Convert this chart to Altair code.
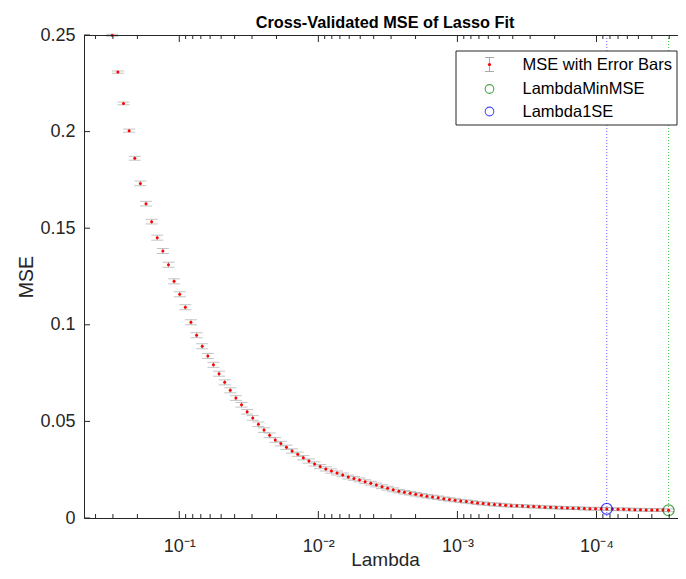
import altair as alt
import pandas as pd

# ---- data ----
log10_lambda = [
    -0.5183, -0.5587, -0.5991, -0.6395, -0.6799, -0.7203, -0.7607, -0.8011, -0.8415, -0.8819,
    -0.9223, -0.9627, -1.0031, -1.0435, -1.0840, -1.1244, -1.1648, -1.2052, -1.2456, -1.2860,
    -1.3264, -1.3668, -1.4072, -1.4476, -1.4880, -1.5284, -1.5688, -1.6092, -1.6496, -1.6900,
    -1.7304, -1.7708, -1.8112, -1.8516, -1.8920, -1.9324, -1.9728, -2.0132, -2.0536, -2.0941,
    -2.1345, -2.1749, -2.2153, -2.2557, -2.2961, -2.3365, -2.3769, -2.4173, -2.4577, -2.4981,
    -2.5385, -2.5789, -2.6193, -2.6597, -2.7001, -2.7405, -2.7809, -2.8213, -2.8617, -2.9021,
    -2.9425, -2.9830, -3.0234, -3.0638, -3.1042, -3.1446, -3.1850, -3.2254, -3.2658, -3.3062,
    -3.3466, -3.3870, -3.4274, -3.4678, -3.5082, -3.5486, -3.5890, -3.6294, -3.6698, -3.7102,
    -3.7506, -3.7910, -3.8314, -3.8718, -3.9122, -3.9526, -3.9931, -4.0335, -4.0739, -4.1143,
    -4.1547, -4.1951, -4.2355, -4.2759, -4.3163, -4.3567, -4.3971, -4.4375, -4.4779, -4.5183,
]
mse = [
    0.2499, 0.2308, 0.2146, 0.2005, 0.1862, 0.1732, 0.1627, 0.1534, 0.1451, 0.1382,
    0.1311, 0.1225, 0.1158, 0.1091, 0.1013, 0.0946, 0.0889, 0.0839, 0.0793, 0.0747,
    0.0702, 0.0661, 0.0621, 0.0586, 0.0550, 0.0518, 0.0485, 0.0455, 0.0428, 0.0404,
    0.0385, 0.0366, 0.0347, 0.0330, 0.0312, 0.0295, 0.0280, 0.0266, 0.0254, 0.0243,
    0.0233, 0.0223, 0.0212, 0.0205, 0.0197, 0.0188, 0.0180, 0.0171, 0.0162, 0.0154,
    0.0146, 0.0139, 0.0133, 0.0128, 0.0123, 0.0118, 0.0113, 0.0109, 0.0105, 0.0100,
    0.0096, 0.0092, 0.0088, 0.0085, 0.0082, 0.0078, 0.0075, 0.0072, 0.0070, 0.0068,
    0.0066, 0.0064, 0.0063, 0.0062, 0.0060, 0.0059, 0.0058, 0.0056, 0.0055, 0.0054,
    0.0053, 0.0052, 0.0051, 0.0050, 0.0049, 0.0048, 0.0048, 0.0048, 0.0047, 0.0046,
    0.0045, 0.0045, 0.0044, 0.0043, 0.0043, 0.0042, 0.0042, 0.0041, 0.0041, 0.0040,
]
se = [
    0.0005, 0.0006, 0.0007, 0.0008, 0.0010, 0.0012, 0.0012, 0.0012, 0.0013, 0.0013,
    0.0013, 0.0013, 0.0013, 0.0013, 0.0013, 0.0013, 0.0013, 0.0013, 0.0013, 0.0013,
    0.0013, 0.0013, 0.0012, 0.0012, 0.0012, 0.0012, 0.0012, 0.0012, 0.0012, 0.0012,
    0.0012, 0.0011, 0.0011, 0.0011, 0.0011, 0.0011, 0.0011, 0.0011, 0.0011, 0.0011,
    0.0010, 0.0010, 0.0010, 0.0010, 0.0010, 0.0010, 0.0010, 0.0010, 0.0010, 0.0010,
    0.0010, 0.0009, 0.0009, 0.0009, 0.0009, 0.0009, 0.0009, 0.0009, 0.0009, 0.0009,
    0.0009, 0.0008, 0.0008, 0.0008, 0.0008, 0.0008, 0.0008, 0.0008, 0.0008, 0.0008,
    0.0008, 0.0007, 0.0007, 0.0007, 0.0007, 0.0007, 0.0007, 0.0007, 0.0007, 0.0007,
    0.0007, 0.0007, 0.0007, 0.0007, 0.0007, 0.0007, 0.0007, 0.0007, 0.0007, 0.0007,
    0.0007, 0.0007, 0.0007, 0.0007, 0.0007, 0.0007, 0.0007, 0.0007, 0.0007, 0.0007,
]
index_lambda_1se = 88
index_lambda_min = 99

x_tick_values = [1e-1, 1e-2, 1e-3, 1e-4]
x_tick_labels = ["10\u207b\u00b9", "10\u207b\u00b2", "10\u207b\u00b3", "10\u207b\u2074"]
y_tick_values = [0, 0.05, 0.1, 0.15, 0.2, 0.25]
y_tick_labels = ["0", "0.05", "0.1", "0.15", "0.2", "0.25"]
legend_labels = ["MSE with Error Bars", "LambdaMinMSE", "Lambda1SE"]
title_text = "Cross-Validated MSE of Lasso Fit"

# ---- tables ----
df = pd.DataFrame({"Lambda": [10 ** e for e in log10_lambda], "MSE": mse, "SE": se})
df["lo"] = df["MSE"] - df["SE"]
df["hi"] = df["MSE"] + df["SE"]

df_min = df.iloc[[index_lambda_min]]
df_1se = df.iloc[[index_lambda_1se]]

x_lo, x_hi = 2.594e-5, 0.4842
minor_ticks = [m * 10.0 ** (-k) for k in range(1, 6) for m in range(2, 10)]
minor_ticks = [v for v in minor_ticks if x_lo < v < x_hi]
df_major = pd.DataFrame({"v": x_tick_values})
df_minor = pd.DataFrame({"v": minor_ticks})
df_yt = pd.DataFrame({"v": y_tick_values})
one = pd.DataFrame({"d": [0]})

W, H = 594, 483
CX = 301  # horizontal centre used by the reference's title and x label
FONT = "Liberation Sans"
AX = "#262626"
GRAY = "#aaaaaa"

xscale = alt.Scale(type="log", domain=[x_lo, x_hi], reverse=True, nice=False)
yscale = alt.Scale(domain=[0, 0.25], nice=False, zero=False)

x_label_expr = ""
for v, lab in zip(x_tick_values, x_tick_labels):
    x_label_expr += f"datum.value > {v * 0.5} ? '{lab}' : "
x_label_expr += "''"
y_label_expr = "[" + ",".join(f"'{l}'" for l in y_tick_labels) + "][round(datum.value / 0.05)]"

x_axis = alt.Axis(
    values=x_tick_values, labelExpr=x_label_expr, ticks=False, tickSize=0, grid=False,
    domainColor=AX, domainWidth=1, labelFont=FONT, labelFontSize=18, labelColor=AX,
    labelPadding=33, labelBaseline="alphabetic", labelFlush=False, labelOverlap=False,
    title="Lambda", titleFont=FONT, titleFontSize=19, titleFontWeight="normal",
    titleColor=AX, titleX=CX, titleY=47, titleAlign="center", titleBaseline="alphabetic",
)
y_axis = alt.Axis(
    values=y_tick_values, labelExpr=y_label_expr, ticks=False, tickSize=0, grid=False,
    domainColor=AX, domainWidth=1, labelFont=FONT, labelFontSize=18, labelColor=AX,
    labelPadding=9, labelFlush=False, labelOverlap=False,
    title="MSE", titleFont=FONT, titleFontSize=19.5, titleFontWeight="normal",
    titleColor=AX, titleX=-52, titleY=H / 2, titleAngle=-90, titleAlign="center",
    titleBaseline="alphabetic",
)

X = alt.X("Lambda:Q", scale=xscale, axis=x_axis)
Y = alt.Y("MSE:Q", scale=yscale, axis=y_axis)

vline_1se = alt.Chart(df_1se).mark_rule(color="#3b3bff", strokeWidth=1, strokeDash=[1, 2], opacity=0.8).encode(
    x=alt.X("Lambda:Q", scale=xscale), y=alt.value(0), y2=alt.value(H))
vline_min = alt.Chart(df_min).mark_rule(color="#00b000", strokeWidth=1, strokeDash=[1, 2], opacity=0.8).encode(
    x=alt.X("Lambda:Q", scale=xscale), y=alt.value(0), y2=alt.value(H))

err_v = alt.Chart(df).mark_rule(color=GRAY, strokeWidth=1).encode(
    x=alt.X("Lambda:Q", scale=xscale), y=alt.Y("lo:Q", scale=yscale), y2="hi:Q")
cap_lo = alt.Chart(df).mark_tick(color=GRAY, orient="horizontal", size=12, thickness=1).encode(
    x=alt.X("Lambda:Q", scale=xscale), y=alt.Y("lo:Q", scale=yscale))
cap_hi = alt.Chart(df).mark_tick(color=GRAY, orient="horizontal", size=12, thickness=1).encode(
    x=alt.X("Lambda:Q", scale=xscale), y=alt.Y("hi:Q", scale=yscale))
points = alt.Chart(df).mark_circle(color="#ff0000", size=9, opacity=1).encode(x=X, y=Y)

circ_min = alt.Chart(df_min).mark_point(shape="circle", filled=False, color="#008000", size=120, strokeWidth=1.2).encode(
    x=alt.X("Lambda:Q", scale=xscale), y=alt.Y("MSE:Q", scale=yscale))
circ_1se = alt.Chart(df_1se).mark_point(shape="circle", filled=False, color="#0000ff", size=120, strokeWidth=1.2).encode(
    x=alt.X("Lambda:Q", scale=xscale), y=alt.Y("MSE:Q", scale=yscale))

# inward ticks and top border
tick_b_major = alt.Chart(df_major).mark_rule(color=AX).encode(
    x=alt.X("v:Q", scale=xscale), y=alt.value(H), y2=alt.value(H - 7))
tick_b_minor = alt.Chart(df_minor).mark_rule(color=AX).encode(
    x=alt.X("v:Q", scale=xscale), y=alt.value(H), y2=alt.value(H - 4))
tick_t_major = alt.Chart(df_major).mark_rule(color=AX).encode(
    x=alt.X("v:Q", scale=xscale), y=alt.value(0), y2=alt.value(7))
tick_t_minor = alt.Chart(df_minor).mark_rule(color=AX).encode(
    x=alt.X("v:Q", scale=xscale), y=alt.value(0), y2=alt.value(4))
tick_y = alt.Chart(df_yt).mark_rule(color=AX).encode(
    y=alt.Y("v:Q", scale=yscale), x=alt.value(0), x2=alt.value(6))
top_line = alt.Chart(one).mark_rule(color=AX, strokeWidth=1).encode(
    x=alt.value(0), x2=alt.value(W), y=alt.value(0.5))

title_mark = alt.Chart(one).mark_text(text=title_text, align="center", baseline="alphabetic", font=FONT,
                                      fontSize=16.3, fontWeight="bold", color="black").encode(
    x=alt.value(CX), y=alt.value(-7.5))

# legend box
LX0, LX1, LY0, LY1 = 372, 593, 16, 90
ICON_X, TEXT_X = 405.5, 438.5
ROWS = [29.5, 54.0, 76.5]
leg_box = alt.Chart(one).mark_rect(fill="white", stroke=AX, strokeWidth=1).encode(
    x=alt.value(LX0), x2=alt.value(LX1), y=alt.value(LY0), y2=alt.value(LY1))
leg_layers = [leg_box]
for lab, ry in zip(legend_labels, ROWS):
    leg_layers.append(alt.Chart(one).mark_text(text=lab, align="left", baseline="middle", font=FONT,
                                               fontSize=16.5, color="black").encode(
        x=alt.value(TEXT_X), y=alt.value(ry)))
leg_layers.append(alt.Chart(one).mark_rule(color=GRAY).encode(
    x=alt.value(ICON_X), y=alt.value(ROWS[0] - 7), y2=alt.value(ROWS[0] + 7)))
leg_layers.append(alt.Chart(one).mark_rule(color=GRAY).encode(
    x=alt.value(ICON_X - 4.5), x2=alt.value(ICON_X + 4.5), y=alt.value(ROWS[0] - 7)))
leg_layers.append(alt.Chart(one).mark_rule(color=GRAY).encode(
    x=alt.value(ICON_X - 4.5), x2=alt.value(ICON_X + 4.5), y=alt.value(ROWS[0] + 7)))
leg_layers.append(alt.Chart(one).mark_circle(color="#ff0000", size=10, opacity=1).encode(
    x=alt.value(ICON_X), y=alt.value(ROWS[0])))
leg_layers.append(alt.Chart(one).mark_point(shape="circle", filled=False, color="#008000", size=75, strokeWidth=1.1).encode(
    x=alt.value(ICON_X), y=alt.value(ROWS[1])))
leg_layers.append(alt.Chart(one).mark_point(shape="circle", filled=False, color="#0000ff", size=75, strokeWidth=1.1).encode(
    x=alt.value(ICON_X), y=alt.value(ROWS[2])))

chart = alt.layer(
    vline_1se, vline_min, err_v, cap_lo, cap_hi, points, circ_min, circ_1se,
    tick_b_major, tick_b_minor, tick_t_major, tick_t_minor, tick_y, top_line, title_mark,
    *leg_layers,
).properties(
    width=W, height=H,
    autosize=alt.AutoSizeParams(type="none"),
    padding={"left": 76, "top": 27, "right": 0, "bottom": 53},
    background="white",
).configure_view(strokeWidth=0)

chart.save("out.html", embed_options={"renderer": "svg", "actions": False})
